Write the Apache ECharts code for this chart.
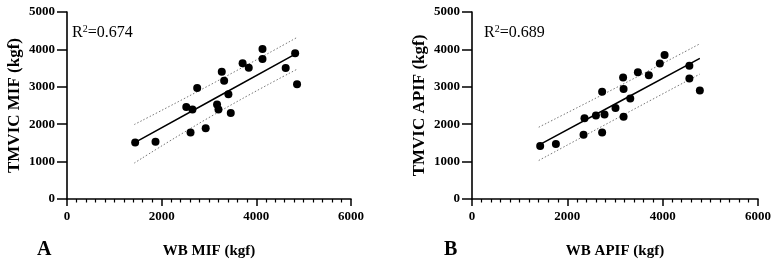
<!DOCTYPE html>
<html>
<head>
<meta charset="utf-8">
<script src="https://cdn.jsdelivr.net/npm/echarts@6/dist/echarts.min.js"></script>
<style>
  html, body { margin: 0; padding: 0; background: #fff; }
  #chart { width: 779px; height: 264px; }
</style>
</head>
<body>
<div id="chart"></div>
<script>
// panel A: WB MIF vs TMVIC MIF
const mifX = [1440, 1870, 2610, 2930, 2520, 2650, 2750, 3170, 3200, 3460, 3410, 3270, 3320, 3710, 3840, 4130, 4130, 4620, 4820, 4860];
const mifY = [1510, 1530, 1780, 1890, 2460, 2390, 2970, 2530, 2390, 2300, 2800, 3400, 3160, 3630, 3510, 4010, 3740, 3500, 3900, 3070];
const mifFitX = [1420, 3140, 4860];
const mifFit = [1500, 2700, 3900];
const mifUpper = [1990, 3130, 4320];
const mifLower = [960, 2280, 3470];

// panel B: WB APIF vs TMVIC APIF
const apifX = [1430, 1760, 2340, 2730, 2360, 2600, 2780, 2730, 3010, 3180, 3320, 3180, 3170, 3480, 3710, 3940, 4040, 4560, 4560, 4780];
const apifY = [1420, 1470, 1720, 1780, 2160, 2230, 2260, 2870, 2430, 2200, 2690, 2940, 3250, 3390, 3310, 3620, 3850, 3560, 3220, 2900];
const apifFitX = [1400, 3090, 4780];
const apifFit = [1440, 2600, 3760];
const apifUpper = [1920, 3020, 4150];
const apifLower = [1030, 2190, 3340];

const xTicks = [0, 2000, 4000, 6000];
const yTicks = [0, 1000, 2000, 3000, 4000, 5000];

const serif = 'Liberation Serif';

function pairs(xs, ys) {
  return xs.map((x, i) => [x, ys[i]]);
}

function makeXAxis(idx, name) {
  return {
    type: 'value', gridIndex: idx,
    min: xTicks[0], max: xTicks[xTicks.length - 1], interval: 2000,
    name: name, nameLocation: 'middle', nameGap: 45,
    nameTextStyle: { fontFamily: serif, fontWeight: 'bold', fontSize: 15, color: '#000' },
    axisLine: { onZero: false, lineStyle: { color: '#000', width: 1.6 } },
    axisTick: { length: 7, lineStyle: { color: '#000', width: 1.5 } },
    minorTick: { show: true, splitNumber: 10, length: 3.5, lineStyle: { color: '#000', width: 1.2 } },
    axisLabel: { fontFamily: serif, fontWeight: 'bold', fontSize: 13, color: '#000', margin: 11, formatter: v => String(v) },
    splitLine: { show: false }
  };
}

function makeYAxis(idx, name) {
  return {
    type: 'value', gridIndex: idx,
    min: yTicks[0], max: yTicks[yTicks.length - 1], interval: 1000,
    name: name, nameLocation: 'middle', nameGap: 44,
    nameTextStyle: { fontFamily: serif, fontWeight: 'bold', fontSize: 17, color: '#000' },
    axisLine: { onZero: false, lineStyle: { color: '#000', width: 1.6 } },
    axisTick: { length: 10, lineStyle: { color: '#000', width: 1.5 } },
    axisLabel: { fontFamily: serif, fontWeight: 'bold', fontSize: 13, color: '#000', margin: 12, formatter: v => String(v) },
    splitLine: { show: false }
  };
}

function panelSeries(idx, xs, ys, fitX, fit, upper, lower) {
  const dotted = { color: '#777', width: 1, type: [1.5, 2] };
  return [
    {
      type: 'line', xAxisIndex: idx, yAxisIndex: idx, data: pairs(fitX, upper),
      symbol: 'none', smooth: true, lineStyle: dotted, z: 1
    },
    {
      type: 'line', xAxisIndex: idx, yAxisIndex: idx, data: pairs(fitX, lower),
      symbol: 'none', smooth: true, lineStyle: dotted, z: 1
    },
    {
      type: 'line', xAxisIndex: idx, yAxisIndex: idx, data: pairs(fitX, fit),
      symbol: 'none', lineStyle: { color: '#000', width: 1.5 }, z: 2
    },
    {
      type: 'scatter', xAxisIndex: idx, yAxisIndex: idx, data: pairs(xs, ys),
      symbolSize: 8, itemStyle: { color: '#000', opacity: 1 }, z: 3
    }
  ];
}

const r2Rich = {
  r: { fontFamily: serif, fontWeight: 'normal', fontSize: 16, color: '#000' },
  s: { fontFamily: serif, fontWeight: 'normal', fontSize: 10, color: '#000', verticalAlign: 'top', padding: [0, 0, 8, 0] }
};

const chart = echarts.init(document.getElementById('chart'));
chart.setOption({
  animation: false,
  backgroundColor: '#fff',
  grid: [
    { left: 67, right: 428, top: 12, bottom: 64 },
    { left: 472, right: 21, top: 12, bottom: 64 }
  ],
  title: [
    { text: '{r|R}{s|2}{r|=0.674}', left: 72, top: 24, padding: 0, textStyle: { fontWeight: 'normal', rich: r2Rich } },
    { text: '{r|R}{s|2}{r|=0.689}', left: 484, top: 24, padding: 0, textStyle: { fontWeight: 'normal', rich: r2Rich } },
    { text: 'A', left: 37, top: 240, padding: 0, textStyle: { fontFamily: serif, fontWeight: 'bold', fontSize: 20, color: '#000' } },
    { text: 'B', left: 444, top: 240, padding: 0, textStyle: { fontFamily: serif, fontWeight: 'bold', fontSize: 20, color: '#000' } }
  ],
  xAxis: [makeXAxis(0, 'WB MIF (kgf)'), makeXAxis(1, 'WB APIF (kgf)')],
  yAxis: [makeYAxis(0, 'TMVIC MIF (kgf)'), makeYAxis(1, 'TMVIC APIF (kgf)')],
  series: [
    ...panelSeries(0, mifX, mifY, mifFitX, mifFit, mifUpper, mifLower),
    ...panelSeries(1, apifX, apifY, apifFitX, apifFit, apifUpper, apifLower)
  ]
});
</script>
</body>
</html>
